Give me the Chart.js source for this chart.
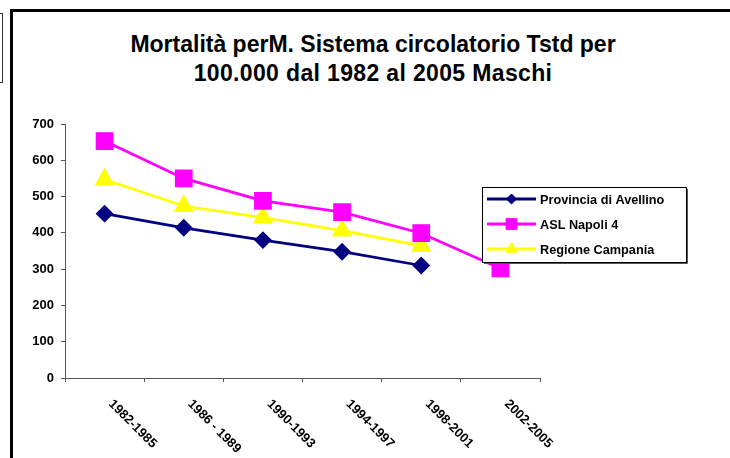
<!DOCTYPE html>
<html>
<head>
<meta charset="utf-8">
<script src="https://cdn.jsdelivr.net/npm/chart.js@4"></script>
<style>
  html, body { margin: 0; padding: 0; background: #fff; overflow: hidden; }
  body { width: 730px; height: 458px; position: relative; font-family: "Liberation Sans", Arial, sans-serif; }
  #frame { position: absolute; left: 10px; top: 9px; width: 800px; height: 520px; border-left: 3px solid #000; border-top: 3px solid #000; }
  #sideBox { position: absolute; left: -100px; top: 13px; width: 101px; height: 68px; border: 1px solid #333; }
  #titolo { position: absolute; left: 2px; top: 30px; width: 742px; text-align: center; font-weight: bold; font-size: 23px; line-height: 29px; color: #000; }
  #titolo span { letter-spacing: 0.35px; }
  canvas { position: absolute; left: 0; top: 0; }
</style>
</head>
<body>
<div id="sideBox"></div>
<div id="frame"></div>
<div id="titolo">Mortalità perM. Sistema circolatorio Tstd per<br><span>100.000 dal 1982 al 2005 Maschi</span></div>
<canvas id="grafico" width="730" height="458"></canvas>
<script>
// Periodi e valori
const periodi = ["1982-1985", "1986 - 1989", "1990-1993", "1994-1997", "1998-2001", "2002-2005"];
const avellino = [453, 414, 380, 348, 310, null];
const napoli4 = [653, 550, 488, 457, 399, 302];
const campania = [547, 474, 442, 406, 364, null];
const yTicks = [0, 100, 200, 300, 400, 500, 600, 700];

const FONT = '"Liberation Sans", Arial, sans-serif';

// Etichette asse x ruotate (testo che scende verso destra)
const etichetteX = {
    id: 'etichetteX',
    afterDraw(chart) {
        const ctx = chart.ctx;
        const xs = chart.scales.x;
        ctx.save();
        ctx.font = 'bold 13px ' + FONT;
        ctx.fillStyle = '#000';
        ctx.textAlign = 'left';
        ctx.textBaseline = 'middle';
        chart.data.labels.forEach((lab, i) => {
            ctx.save();
            ctx.translate(xs.getPixelForTick(i) + 6, xs.top + 24);
            ctx.rotate(Math.PI / 4);
            ctx.fillText(lab, 0, 0);
            ctx.restore();
        });
        ctx.restore();
    }
};

// Legenda con riquadro, come nell'originale
const legendaBox = {
    id: 'legendaBox',
    afterDraw(chart) {
        const ctx = chart.ctx;
        ctx.save();
        ctx.fillStyle = '#fff';
        ctx.fillRect(482, 187, 204, 75);
        ctx.strokeStyle = '#000';
        ctx.lineWidth = 1;
        ctx.strokeRect(482.5, 187.5, 204, 75);
        ctx.strokeStyle = '#555';
        ctx.beginPath();
        ctx.moveTo(687.5, 189); ctx.lineTo(687.5, 263.5); ctx.lineTo(484, 263.5);
        ctx.stroke();
        chart.data.datasets.forEach((ds, i) => {
            const y = 199 + 25 * i;
            ctx.strokeStyle = ds.borderColor;
            ctx.lineWidth = 3;
            ctx.beginPath();
            ctx.moveTo(487, y);
            ctx.lineTo(536, y);
            ctx.stroke();
            ctx.fillStyle = ds.pointBackgroundColor;
            ctx.strokeStyle = ds.borderColor;
            ctx.lineWidth = 1;
            Chart.helpers.drawPoint(ctx, {
                pointStyle: ds.pointStyle,
                radius: ds.pointRadius * 0.72,
                rotation: 0,
                borderWidth: 1
            }, 511.5, y);
            ctx.fillStyle = '#000';
            ctx.font = 'bold 12.7px ' + FONT;
            ctx.textAlign = 'left';
            ctx.textBaseline = 'middle';
            ctx.fillText(ds.label, 540, y + 1);
        });
        ctx.restore();
    }
};

function serie(label, data, color, style, r) {
    return {
        label: label,
        data: data,
        borderColor: color,
        backgroundColor: color,
        pointBackgroundColor: color,
        pointBorderColor: color,
        pointStyle: style,
        pointRadius: r,
        pointHoverRadius: r,
        borderWidth: 2.75,
        tension: 0
    };
}

new Chart(document.getElementById('grafico').getContext('2d'), {
    type: 'line',
    data: {
        labels: periodi,
        datasets: [
            serie("Provincia di Avellino", avellino, '#000080', 'rectRot', 7),
            serie("ASL Napoli 4", napoli4, '#FF00FF', 'rect', 10.6),
            serie("Regione Campania", campania, '#FFFF00', 'triangle', 9)
        ]
    },
    options: {
        responsive: false,
        animation: false,
        devicePixelRatio: 1,
        layout: { padding: { top: 124, right: 190, left: 0, bottom: 0 } },
        plugins: {
            legend: { display: false },
            title: { display: false },
            tooltip: { enabled: false }
        },
        scales: {
            x: {
                offset: true,
                grid: { offset: true, drawOnChartArea: false, drawTicks: true, tickLength: 4, color: '#555' },
                border: { color: '#555', width: 1 },
                ticks: { display: false },
                afterFit(scale) { scale.height = 80; }
            },
            y: {
                min: 0,
                max: 700,
                afterBuildTicks(scale) { scale.ticks = yTicks.map(v => ({ value: v })); },
                grid: { drawOnChartArea: false, drawTicks: true, tickLength: 4, color: '#555' },
                border: { color: '#555', width: 1 },
                ticks: {
                    padding: 7,
                    color: '#000',
                    font: { family: FONT, size: 13, weight: 'bold' }
                },
                afterFit(scale) { scale.width = 65; }
            }
        }
    },
    plugins: [etichetteX, legendaBox]
});
</script>
</body>
</html>
